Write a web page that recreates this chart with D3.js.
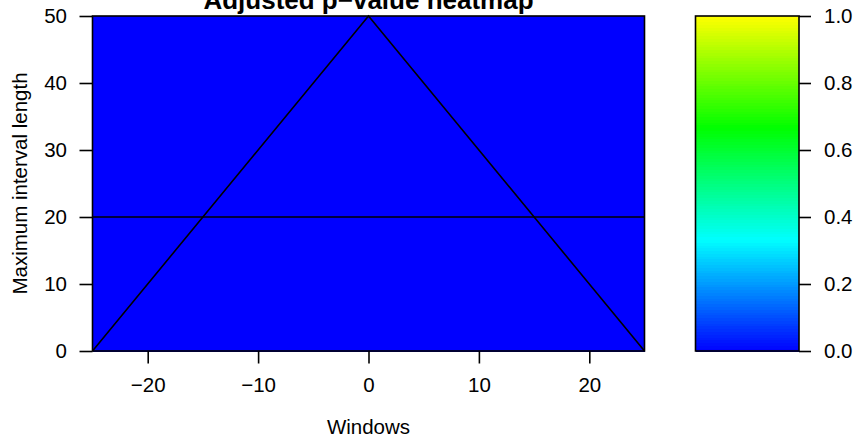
<!DOCTYPE html>
<html>
<head>
<meta charset="utf-8">
<script src="https://cdn.jsdelivr.net/npm/d3@7"></script>
<style>
  html, body { margin: 0; padding: 0; background: #fff; }
  svg { display: block; font-family: "Liberation Sans", Arial, sans-serif; }
</style>
</head>
<body>
<svg id="chart" width="857" height="439"></svg>
<script>
// ---- data ----
const title = "Adjusted p\u2212value heatmap";
const xLabel = "Windows";
const yLabel = "Maximum interval length";
const windowEdges = [-25, -15, -5, 5, 15, 25];
const lengthEdges = [0, 10, 20, 30, 40, 50];
// adjusted p-values per cell (rows: length bins, cols: window bins)
const pValues = [
  [0, 0, 0, 0, 0],
  [0, 0, 0, 0, 0],
  [0, 0, 0, 0, 0],
  [0, 0, 0, 0, 0],
  [0, 0, 0, 0, 0]
];
const xTicks = [-20, -10, 0, 10, 20];
const yTicks = [0, 10, 20, 30, 40, 50];
const cTicks = [0, 0.2, 0.4, 0.6, 0.8, 1.0];
const paletteColors = ["#0000FF", "#00FFFF", "#00FF00", "#FFFF00"];
const paletteStops = [0, 1/3, 2/3, 1];
// overlay lines: triangle and horizontal reference line
const triangleX = [-25, 0, 25];
const triangleY = [0, 50, 0];
const hLineY = 20;

// ---- layout ----
const svg = d3.select("#chart");
const plot = { left: 92.5, right: 644.5, top: 16, bottom: 351 };
const cbar = { left: 695.5, right: 799, top: 16, bottom: 351 };
const fs = 20.5;
const lw = 1.6;

const x = d3.scaleLinear().domain([-25, 25]).range([plot.left, plot.right]);
const y = d3.scaleLinear().domain([0, 50]).range([plot.bottom, plot.top]);
const color = d3.scaleLinear().domain(paletteStops).range(paletteColors).interpolate(d3.interpolateRgb);

// heatmap cells
const cells = [];
pValues.forEach((row, i) => row.forEach((v, j) => cells.push({
  x0: windowEdges[j], x1: windowEdges[j + 1], y0: lengthEdges[i], y1: lengthEdges[i + 1], v
})));
svg.append("g").selectAll("rect").data(cells).join("rect")
  .attr("x", d => x(d.x0)).attr("y", d => y(d.y1))
  .attr("width", d => x(d.x1) - x(d.x0) + 0.5)
  .attr("height", d => y(d.y0) - y(d.y1) + 0.5)
  .attr("fill", d => color(d.v))
  .attr("shape-rendering", "crispEdges");

// overlay lines
const tri = triangleX.map((d, i) => [x(d), y(triangleY[i])]);
svg.append("path").attr("d", d3.line()(tri))
  .attr("fill", "none").attr("stroke", "#000").attr("stroke-width", lw);
svg.append("line")
  .attr("x1", x(-25)).attr("x2", x(25)).attr("y1", y(hLineY)).attr("y2", y(hLineY))
  .attr("stroke", "#000").attr("stroke-width", lw);

// box
svg.append("rect")
  .attr("x", plot.left).attr("y", plot.top)
  .attr("width", plot.right - plot.left).attr("height", plot.bottom - plot.top)
  .attr("fill", "none").attr("stroke", "#000").attr("stroke-width", lw);

// axes
function styleAxis(g) {
  g.select(".domain").remove();
  g.selectAll(".tick line").attr("stroke", "#000").attr("stroke-width", lw);
  g.selectAll(".tick text").attr("fill", "#000").style("font-size", fs + "px")
    .style("font-family", '"Liberation Sans", Arial, sans-serif');
}
const fmtMinus = d => d < 0 ? "\u2212" + Math.abs(d) : String(d);

svg.append("g").attr("transform", `translate(0,${plot.bottom})`)
  .call(d3.axisBottom(x).tickValues(xTicks).tickSize(12.5).tickPadding(14).tickFormat(fmtMinus))
  .call(styleAxis);

svg.append("g").attr("transform", `translate(${plot.left},0)`)
  .call(d3.axisLeft(y).tickValues(yTicks).tickSize(13).tickPadding(12.5).tickFormat(d => String(d)))
  .call(styleAxis);

// colorbar
const cy = d3.scaleLinear().domain([0, 1]).range([cbar.bottom, cbar.top]);
const nBands = 120;
const bands = d3.range(nBands).map(i => ({ a: i / nBands, b: (i + 1) / nBands }));
svg.append("g").selectAll("rect").data(bands).join("rect")
  .attr("x", cbar.left).attr("width", cbar.right - cbar.left)
  .attr("y", d => cy(d.b)).attr("height", d => cy(d.a) - cy(d.b) + 0.6)
  .attr("fill", d => color((d.a + d.b) / 2))
  .attr("shape-rendering", "crispEdges");
svg.append("rect")
  .attr("x", cbar.left).attr("y", cbar.top)
  .attr("width", cbar.right - cbar.left).attr("height", cbar.bottom - cbar.top)
  .attr("fill", "none").attr("stroke", "#000").attr("stroke-width", lw);
svg.append("g").attr("transform", `translate(${cbar.right},0)`)
  .call(d3.axisRight(cy).tickValues(cTicks).tickSize(12).tickPadding(13).tickFormat(d3.format(".1f")))
  .call(styleAxis);

// titles
svg.append("text").attr("x", (plot.left + plot.right) / 2).attr("y", 8.5)
  .attr("text-anchor", "middle").style("font-weight", "bold").style("font-size", "26px")
  .text(title);
svg.append("text").attr("x", (plot.left + plot.right) / 2).attr("y", 434)
  .attr("text-anchor", "middle").style("font-size", fs + "px").text(xLabel);
svg.append("text").attr("transform", `translate(27,${(plot.top + plot.bottom) / 2}) rotate(-90)`)
  .attr("text-anchor", "middle").style("font-size", fs + "px").text(yLabel);
</script>
</body>
</html>
